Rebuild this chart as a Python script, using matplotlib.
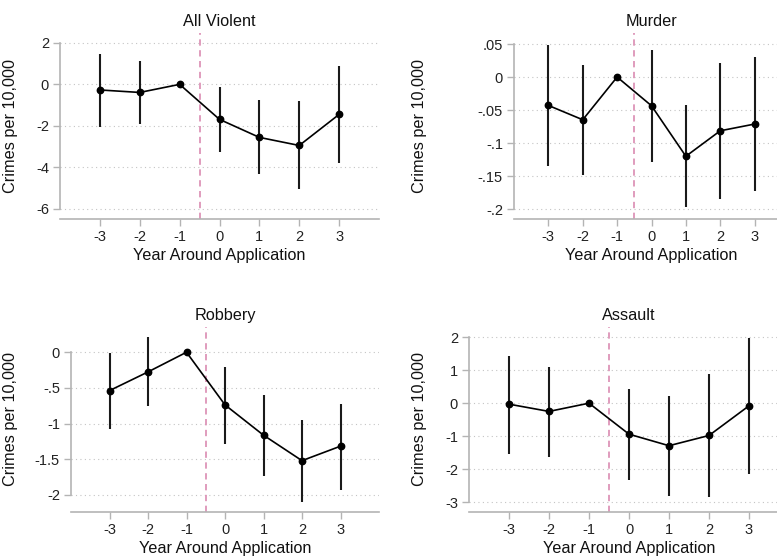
import numpy as np
import matplotlib
matplotlib.use("Agg")
import matplotlib.pyplot as plt

plt.rcParams["font.family"] = ["Liberation Sans", "DejaVu Sans"]

# 年份（相对申请年）
years = np.array([-3, -2, -1, 0, 1, 2, 3])

# 各类犯罪的点估计与置信区间
violent = np.array([-0.27, -0.39, 0.0, -1.69, -2.56, -2.95, -1.45])
violent_hi = np.array([1.48, 1.14, 0.0, -0.13, -0.74, -0.82, 0.89])
violent_lo = np.array([-2.04, -1.93, 0.0, -3.25, -4.35, -5.07, -3.80])

murder = np.array([-0.043, -0.0647, 0.0, -0.0435, -0.120, -0.0814, -0.0712])
murder_hi = np.array([0.0485, 0.0186, 0.0, 0.0414, -0.043, 0.021, 0.0297])
murder_lo = np.array([-0.134, -0.148, 0.0, -0.128, -0.1965, -0.184, -0.172])

robbery = np.array([-0.538, -0.276, 0.0, -0.738, -1.163, -1.52, -1.317])
robbery_hi = np.array([-0.005, 0.21, 0.0, -0.20, -0.60, -0.95, -0.72])
robbery_lo = np.array([-1.07, -0.76, 0.0, -1.28, -1.73, -2.10, -1.93])

assault = np.array([-0.03, -0.25, 0.0, -0.94, -1.29, -0.98, -0.08])
assault_hi = np.array([1.44, 1.11, 0.0, 0.44, 0.22, 0.87, 1.98])
assault_lo = np.array([-1.53, -1.62, 0.0, -2.32, -2.82, -2.85, -2.15])

titles = ["All Violent", "Murder", "Robbery", "Assault"]
yticks_list = [
    [2, 0, -2, -4, -6],
    [0.05, 0, -0.05, -0.1, -0.15, -0.2],
    [0, -0.5, -1, -1.5, -2],
    [2, 1, 0, -1, -2, -3],
]
yticklabels_list = [
    ["2", "0", "-2", "-4", "-6"],
    [".05", "0", "-.05", "-.1", "-.15", "-.2"],
    ["0", "-.5", "-1", "-1.5", "-2"],
    ["2", "1", "0", "-1", "-2", "-3"],
]
ylims = [(-6.5, 2.48), (-0.215, 0.0667), (-2.24, 0.354), (-3.3, 2.31)]
xticklabels = ["-3", "-2", "-1", "0", "1", "2", "3"]

W, H = 777, 556
# 子图位置（像素：左, 上, 右, 下）
boxes = [(60, 33, 379, 219), (514, 33, 789, 219),
         (71, 327, 379, 512), (469, 327, 789, 512)]
ylabel_x = [18, 427, 18, 427]

series = [(violent, violent_lo, violent_hi), (murder, murder_lo, murder_hi),
          (robbery, robbery_lo, robbery_hi), (assault, assault_lo, assault_hi)]

fig = plt.figure(figsize=(W / 100, H / 100), dpi=100)
gray = "#b4b4b4"

for i in range(4):
    l, t, r, b = boxes[i]
    ax = fig.add_axes([l / W, 1 - b / H, (r - l) / W, (b - t) / H])
    est, lo, hi = series[i]

    ax.vlines(years, lo, hi, color="#1a1a1a", lw=1.5, zorder=3)
    ax.plot(years, est, color="black", lw=1.2, marker="o", ms=4.6, zorder=4)
    ax.axvline(-0.5, color="#dd94b8", lw=1.3, ls=(0, (3.5, 2.5)), zorder=2)

    ax.set_xlim(-4, 4)
    ax.set_ylim(*ylims[i])
    ax.set_xticks(years)
    ax.set_xticklabels(xticklabels)
    ax.set_yticks(yticks_list[i])
    ax.set_yticklabels(yticklabels_list[i])

    for s in ["top", "right"]:
        ax.spines[s].set_visible(False)
    ax.spines["left"].set_bounds(min(yticks_list[i]), max(yticks_list[i]))
    ax.spines["left"].set_color(gray)
    ax.spines["bottom"].set_color(gray)
    ax.spines["left"].set_linewidth(1.2)
    ax.spines["bottom"].set_linewidth(1.2)
    ax.tick_params(axis="both", colors=gray, length=5, width=1.0,
                   labelcolor="#222222", labelsize=10.5, pad=3)

    ax.yaxis.grid(True, color="#c4c4c4", lw=0.8, ls=(0, (1, 3)))
    ax.set_axisbelow(True)

    ax.set_title(titles[i], fontsize=11.7, color="#111111", pad=5)
    ax.set_xlabel("Year Around Application", fontsize=11.7, color="#111111", labelpad=3)
    ax.set_ylabel("Crimes per 10,000", fontsize=11.7, color="#111111")
    ax.yaxis.set_label_coords(-(l - ylabel_x[i]) / (r - l), 0.5)

plt.savefig("out.png", dpi=100)
